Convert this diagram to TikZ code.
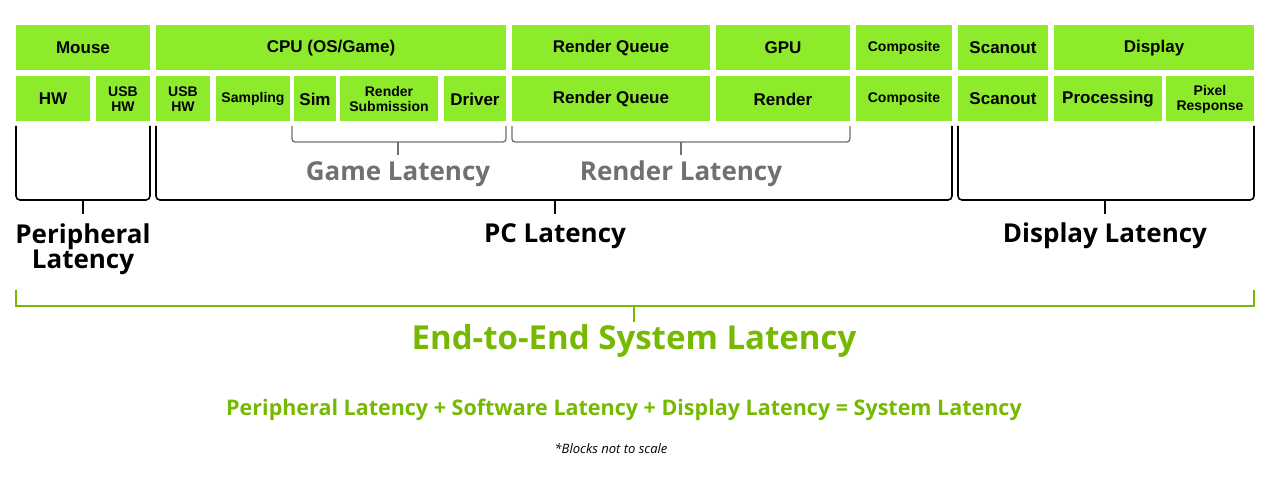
\documentclass[tikz,border=0pt]{standalone}
\usepackage{fontspec}
\setmainfont{Liberation Sans}
\newfontfamily\lat{Open Sans}
\definecolor{boxg}{HTML}{8EEB2C}
\definecolor{nvg}{HTML}{76B900}
\definecolor{gr}{HTML}{707070}
\begin{document}
\begin{tikzpicture}[x=1pt,y=-1pt,
 bx/.style={fill=boxg,inner sep=0,font=\bfseries\fontsize{17}{18}\selectfont,align=center},
 sb/.style={fill=boxg,inner sep=0,font=\bfseries\fontsize{14}{15}\selectfont,align=center},
 br/.style={line width=1.6pt,rounded corners=4pt},
 lb/.style={font=\lat\bfseries\fontsize{26}{30}\selectfont,align=center}]
\useasboundingbox (0,0) rectangle (1280,478);
\newcommand\bb[6]{\node[#1,minimum width={#4-#3},minimum height=45] (#2) at ({(#3+#4)/2},#5) {#6};}
% top row
\bb{bx}{t1}{16}{150}{48}{Mouse}
\bb{bx}{t2}{156}{506}{48}{CPU (OS/Game)}
\bb{bx}{t3}{512}{710}{48}{Render Queue}
\bb{bx}{t4}{716}{850}{48}{GPU}
\bb{sb}{t5}{856}{952}{48}{Composite}
\bb{bx}{t6}{958}{1048}{48}{Scanout}
\bb{bx}{t7}{1054}{1254}{48}{Display}
% bottom row
\bb{bx}{b1}{16}{90}{99}{HW}
\bb{sb}{b2}{96}{150}{99}{USB\\HW}
\bb{sb}{b3}{156}{210}{99}{USB\\HW}
\bb{sb}{b4}{216}{290}{99}{Sampling}
\bb{bx}{b5}{294}{336}{99}{Sim}
\bb{sb}{b6}{340}{438}{99}{Render\\Submission}
\bb{bx}{b7}{444}{506}{99}{Driver}
\bb{bx}{b8}{512}{710}{99}{Render Queue}
\bb{bx}{b9}{716}{850}{99}{Render}
\bb{sb}{b10}{856}{952}{99}{Composite}
\bb{bx}{b11}{958}{1048}{99}{Scanout}
\bb{bx}{b12}{1054}{1162}{99}{Processing}
\bb{sb}{b13}{1166}{1254}{99}{Pixel\\Response}
% small brackets
\draw[gr,line width=1.3pt,rounded corners=3pt] (292,126) -- (292,142) -- (506,142) -- (506,126);
\draw[gr,line width=1.3pt] (398,142) -- (398,155);
\node[lb,text=gr] (gl) at (398,174) {Game Latency};
\draw[gr,line width=1.3pt,rounded corners=3pt] (512,126) -- (512,142) -- (850,142) -- (850,126);
\draw[gr,line width=1.3pt] (681,142) -- (681,155);
\node[lb,text=gr] (rl) at (681,174) {Render Latency};
% big brackets
\draw[br] (16,126) -- (16,200) -- (150,200) -- (150,126);
\draw[br] (83,200) -- (83,214);
\node[lb] (pl) at (83,249) {Peripheral\\[-5pt]Latency};
\draw[br] (156,126) -- (156,200) -- (952,200) -- (952,126);
\draw[br] (555,200) -- (555,214);
\node[lb] (pcl) at (555,236) {PC Latency};
\draw[br] (958,126) -- (958,200) -- (1254,200) -- (1254,126);
\draw[br] (1105,200) -- (1105,214);
\node[lb] (dl) at (1105,236) {Display Latency};
% end to end
\draw[nvg,line width=2.2pt] (16,290) -- (16,306) -- (1254,306) -- (1254,290);
\draw[nvg,line width=2.2pt] (634,306) -- (634,322);
\node[font=\lat\bfseries\fontsize{33}{36}\selectfont,text=nvg] (e2e) at (634,341) {End-to-End System Latency};
\node[font=\lat\bfseries\fontsize{21.5}{24}\selectfont,text=nvg] (f) at (624,410) {Peripheral Latency + Software Latency + Display Latency = System Latency};
\node[font=\lat\itshape\fontsize{13}{14}\selectfont] (n) at (611,449) {*Blocks not to scale};
\end{tikzpicture}
\end{document}
